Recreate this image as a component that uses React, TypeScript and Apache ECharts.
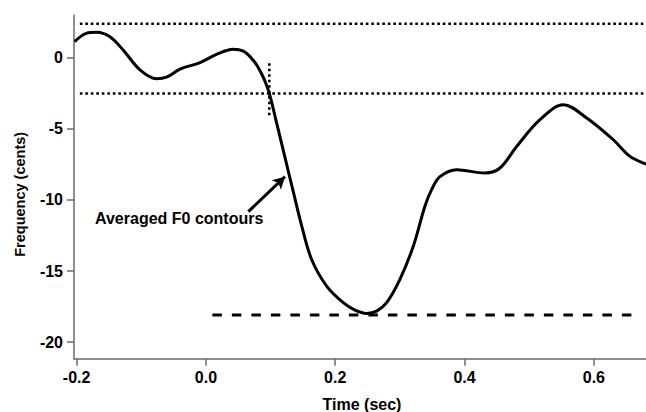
import { useEffect, useRef } from "react";
import * as echarts from "echarts";

// Averaged F0 contour (time in sec, frequency in cents)
const timeSec = [
  -0.203, -0.185, -0.169, -0.149, -0.128, -0.102, -0.076, -0.061, -0.04, -0.009,
  0.017, 0.042, 0.058, 0.07, 0.08, 0.09, 0.098, 0.11, 0.122, 0.135,
  0.148, 0.1635, 0.1867, 0.2124, 0.2305, 0.2486, 0.264, 0.2795, 0.3,
  0.3207, 0.3387, 0.349, 0.362, 0.3878, 0.4316, 0.4548, 0.4806, 0.5166, 0.5527,
  0.5889, 0.63, 0.6558, 0.679, 0.69,
];
const freqCents = [
  1.15, 1.73, 1.8, 1.5, 0.56, -0.84, -1.47, -1.36, -0.79, -0.33,
  0.26, 0.61, 0.48, 0.0, -0.6, -1.5, -2.48, -4.7, -6.95, -9.4,
  -11.8, -14.19, -16.06, -17.23, -17.75, -17.98, -17.82, -17.23, -15.59,
  -13.25, -10.44, -9.27, -8.36, -7.87, -8.1, -7.75, -6.23, -4.35, -3.3,
  -4.23, -5.76, -6.93, -7.44, -7.6,
];

const xTicks = [-0.2, 0, 0.2, 0.4, 0.6];
const yTicks = [-20, -15, -10, -5, 0];

const upperLimit = 2.4;
const lowerLimit = -2.5;
const limitSpan = [-0.195, 0.6806];
const troughLevel = -18.1;
const troughSpan = [0.01, 0.673];
const onsetTime = 0.098;
const onsetSpan = [-0.37, -4.07];
const arrowFrom = [0.0656, -10.82];
const arrowTo = [0.1223, -8.36];
const annotationAt = [-0.1715, -11.27];
const annotationText = "Averaged F0 contours";
const xTitle = "Time (sec)";
const yTitle = "Frequency (cents)";

const FONT = "'Liberation Sans', Arial, Helvetica, sans-serif";

export default function App() {
  const ref = useRef<HTMLDivElement>(null);

  useEffect(() => {
    if (!ref.current) return;
    const chart = echarts.init(ref.current, null, { renderer: "svg" });

    const axisColor = "#6a6a6a";
    const labelStyle = {
      color: "#000",
      fontSize: 16,
      fontWeight: "bold" as const,
      fontFamily: FONT,
    };
    const dotted = {
      color: "#000",
      width: 2.6,
      type: [2.6, 2.9] as number[],
      cap: "butt" as const,
    };

    const option: any = {
      animation: false,
      backgroundColor: "#fff",
      grid: { left: 74, right: 0, top: 15, bottom: 53.3, containLabel: false },
      xAxis: {
        type: "value",
        min: -0.204,
        max: 0.6806,
        axisLine: { show: true, onZero: false, lineStyle: { color: axisColor, width: 1.5 } },
        axisTick: {
          show: true,
          length: 7,
          inside: false,
          customValues: xTicks,
          lineStyle: { color: axisColor, width: 1.5 },
        },
        axisLabel: {
          ...labelStyle,
          margin: 11,
          customValues: xTicks,
          formatter: (v: number) => v.toFixed(1),
        },
        splitLine: { show: false },
      },
      yAxis: {
        type: "value",
        min: -21.17,
        max: 3.02,
        axisLine: { show: true, onZero: false, lineStyle: { color: axisColor, width: 1.5 } },
        axisTick: {
          show: true,
          length: 7,
          inside: false,
          customValues: yTicks,
          lineStyle: { color: axisColor, width: 1.5 },
        },
        axisLabel: {
          ...labelStyle,
          margin: 11,
          customValues: yTicks,
          formatter: (v: number) => String(v),
        },
        splitLine: { show: false },
      },
      series: [
        {
          type: "line",
          data: timeSec.map((t, i) => [t, freqCents[i]]),
          smooth: 0.35,
          symbol: "none",
          lineStyle: { color: "#000", width: 3 },
          z: 5,
          markLine: {
            silent: true,
            symbol: ["none", "arrow"],
            symbolSize: [10, 12],
            label: { show: false },
            lineStyle: { color: "#000", width: 3, type: "solid" },
            data: [[{ coord: arrowFrom }, { coord: arrowTo }]],
          },
        },
        {
          type: "line",
          data: limitSpan.map((t) => [t, upperLimit]),
          symbol: "none",
          lineStyle: dotted,
        },
        {
          type: "line",
          data: limitSpan.map((t) => [t, lowerLimit]),
          symbol: "none",
          lineStyle: dotted,
        },
        {
          type: "line",
          data: onsetSpan.map((v) => [onsetTime, v]),
          symbol: "none",
          lineStyle: dotted,
        },
        {
          type: "line",
          data: troughSpan.map((t) => [t, troughLevel]),
          symbol: "none",
          lineStyle: {
            color: "#000",
            width: 3,
            type: [9.5, 10],
            cap: "butt",
          },
        },
      ],
    };

    chart.setOption(option);

    const p = chart.convertToPixel({ gridIndex: 0 }, annotationAt) as number[];
    chart.setOption({
      graphic: [
        {
          type: "text",
          x: p[0],
          y: p[1],
          style: {
            text: annotationText,
            fill: "#000",
            fontSize: 16,
            fontWeight: "bold",
            fontFamily: FONT,
            align: "left",
            verticalAlign: "middle",
          },
        },
        {
          type: "text",
          x: 362,
          y: 404,
          style: {
            text: xTitle,
            fill: "#000",
            fontSize: 16,
            fontWeight: "bold",
            fontFamily: FONT,
            align: "center",
            verticalAlign: "middle",
          },
        },
        {
          type: "text",
          x: 19.5,
          y: 194.3,
          rotation: Math.PI / 2,
          style: {
            text: yTitle,
            fill: "#000",
            fontSize: 14.5,
            fontWeight: "bold",
            fontFamily: FONT,
            align: "center",
            verticalAlign: "middle",
          },
        },
      ],
    });

    return () => chart.dispose();
  }, []);

  return (
    <div
      ref={ref}
      style={{ position: "absolute", left: 0, top: 0, width: 646, height: 412 }}
    />
  );
}
